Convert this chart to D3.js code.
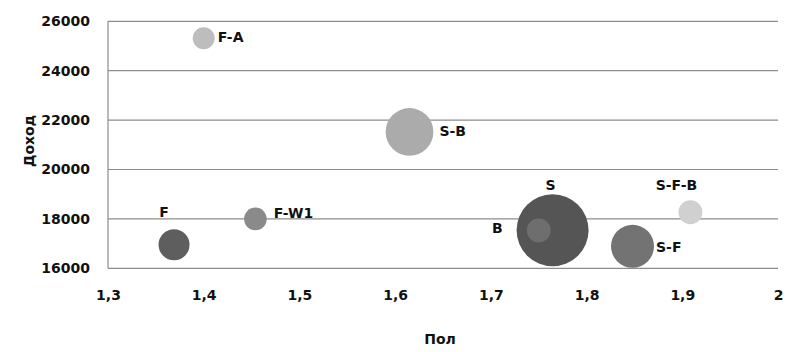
<!DOCTYPE html>
<html>
<head>
<meta charset="utf-8">
<script src="https://cdn.jsdelivr.net/npm/d3@7"></script>
<style>
  html, body { margin: 0; padding: 0; background: #ffffff; }
  svg text { font-family: "DejaVu Sans", sans-serif; font-weight: bold; fill: #111; }
</style>
</head>
<body>
<svg id="chart" width="791" height="352"></svg>
<script>
// Data
const labels   = ["F-A", "S-B", "F", "F-W1", "S", "B", "S-F", "S-F-B"];
const xValues  = [1.40, 1.615, 1.369, 1.454, 1.7645, 1.75, 1.848, 1.9085];
const yValues  = [25310, 21520, 16955, 18000, 17540, 17530, 16890, 18270];
const sizes    = [9.3, 44, 18.5, 9.9, 100, 11, 35.7, 11];
const colors   = ["#bdbdbd", "#ababab", "#5e5e5e", "#8a8a8a", "#555555", "#6e6e6e", "#737373", "#d0d0d0"];
const labelPos = ["right", "right", "above", "right", "above", "left", "right", "above"];
const xTicks   = [1.3, 1.4, 1.5, 1.6, 1.7, 1.8, 1.9, 2.0];
const yTicks   = [16000, 18000, 20000, 22000, 24000, 26000];
const xTitle = "Пол";
const yTitle = "Доход";

const svg = d3.select("#chart");
const mLeft = 108, mRight = 778, mTop = 21.3, mBottom = 268.3;

const x = d3.scaleLinear().domain([1.3, 2.0]).range([mLeft, mRight]);
const y = d3.scaleLinear().domain([16000, 26000]).range([mBottom, mTop]);
const r = d3.scaleSqrt().domain([0, 100]).range([0, 36]);

// gridlines
svg.append("g").selectAll("line").data(yTicks).join("line")
  .attr("x1", mLeft).attr("x2", mRight)
  .attr("y1", d => y(d)).attr("y2", d => y(d))
  .attr("stroke", "#8c8c8c").attr("stroke-width", 1.2);

// left axis line
svg.append("line").attr("x1", mLeft).attr("x2", mLeft)
  .attr("y1", mTop).attr("y2", mBottom)
  .attr("stroke", "#8c8c8c").attr("stroke-width", 1.2);

// y axis
const yAxis = d3.axisLeft(y).tickValues(yTicks).tickSize(0).tickPadding(18).tickFormat(d3.format("d"));
const gy = svg.append("g").attr("transform", `translate(${mLeft},0)`).call(yAxis);
gy.select(".domain").remove();
gy.selectAll("text").style("font-size", "14px").style("font-family", "DejaVu Sans").style("font-weight", "bold").attr("fill", "#111");

// x axis
const fmtX = d => d === 2 ? "2" : d3.format(".1f")(d).replace(".", ",");
const xAxis = d3.axisBottom(x).tickValues(xTicks).tickSize(0).tickPadding(22).tickFormat(fmtX);
const gx = svg.append("g").attr("transform", `translate(0,${mBottom})`).call(xAxis);
gx.select(".domain").remove();
gx.selectAll("text").style("font-size", "14px").style("font-family", "DejaVu Sans").style("font-weight", "bold").attr("fill", "#111");

// bubbles
const data = labels.map((l, i) => ({ label: l, x: xValues[i], y: yValues[i], s: sizes[i], c: colors[i], pos: labelPos[i] }));
const sorted = data.slice().sort((a, b) => b.s - a.s);
svg.append("g").selectAll("circle").data(sorted).join("circle")
  .attr("cx", d => x(d.x)).attr("cy", d => y(d.y)).attr("r", d => r(d.s))
  .attr("fill", d => d.c);

// label nudges (layout only)
const nudge = {
  "F-A":   [0, 0],
  "S-B":   [3, 0],
  "F":     [-10, -16],
  "F-W1":  [4, -5],
  "S":     [-2, -8],
  "B":     [-20, -2],
  "S-F":   [-1, 2],
  "S-F-B": [-14, -14]
};

svg.append("g").selectAll("text").data(data).join("text")
  .attr("x", d => {
    const cx = x(d.x), rr = r(d.s), n = nudge[d.label];
    if (d.pos === "right") return cx + rr + 3 + n[0];
    if (d.pos === "left") return cx - rr - 4 + n[0];
    return cx + n[0];
  })
  .attr("y", d => {
    const cy = y(d.y), rr = r(d.s), n = nudge[d.label];
    if (d.pos === "above") return cy - rr + n[1];
    return cy + n[1];
  })
  .attr("text-anchor", d => d.pos === "right" ? "start" : (d.pos === "left" ? "end" : "middle"))
  .attr("dominant-baseline", "middle")
  .style("font-size", "14px")
  .text(d => d.label);

// axis titles
svg.append("text").attr("x", 440).attr("y", 340).attr("text-anchor", "middle")
  .attr("dominant-baseline", "middle").style("font-size", "14px").text(xTitle);
svg.append("text").attr("transform", "translate(30,141) rotate(-90)").attr("text-anchor", "middle")
  .attr("dominant-baseline", "middle").style("font-size", "14px").text(yTitle);
</script>
</body>
</html>
